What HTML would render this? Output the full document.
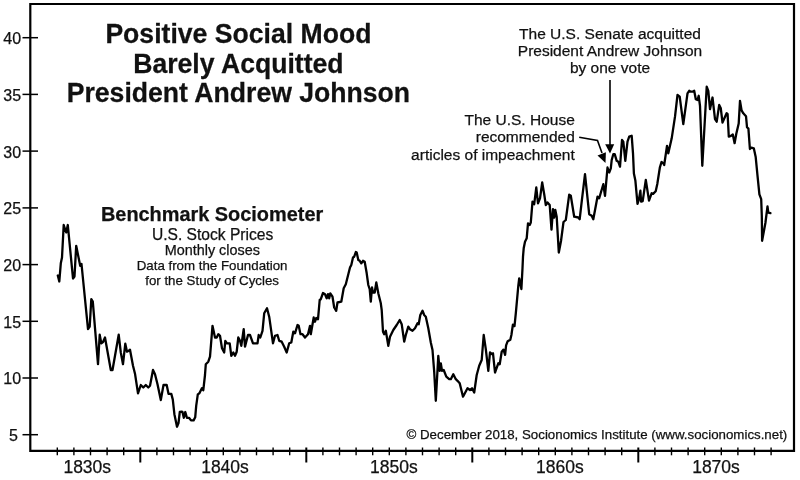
<!DOCTYPE html>
<html><head><meta charset="utf-8"><style>
html,body{margin:0;padding:0;background:#fff;}
body{width:800px;height:480px;position:relative;overflow:hidden;}
svg{position:absolute;left:0;top:0;will-change:transform;font-family:"Liberation Sans",sans-serif;}
</style></head><body>
<svg width="800" height="480" viewBox="0 0 800 480">
<g stroke="#000" fill="none">
<path d="M30.3,450.8 V4 H794 V450.8 Z" stroke-width="2.2"/>
<g stroke-width="1.5"><line x1="22.5" y1="37.7" x2="38" y2="37.7"/><line x1="22.5" y1="94.4" x2="38" y2="94.4"/><line x1="22.5" y1="151.1" x2="38" y2="151.1"/><line x1="22.5" y1="207.9" x2="38" y2="207.9"/><line x1="22.5" y1="264.6" x2="38" y2="264.6"/><line x1="22.5" y1="321.3" x2="38" y2="321.3"/><line x1="22.5" y1="378" x2="38" y2="378"/><line x1="22.5" y1="434.7" x2="38" y2="434.7"/></g>
<line x1="57.3" y1="447.5" x2="57.3" y2="455.3" stroke-width="1.4"/><line x1="73.9" y1="447.5" x2="73.9" y2="455.3" stroke-width="1.4"/><line x1="90.5" y1="447.5" x2="90.5" y2="455.3" stroke-width="1.4"/><line x1="107.1" y1="447.5" x2="107.1" y2="455.3" stroke-width="1.4"/><line x1="123.7" y1="447.5" x2="123.7" y2="455.3" stroke-width="1.4"/><line x1="140.3" y1="447.5" x2="140.3" y2="462.5" stroke-width="2"/><line x1="156.9" y1="447.5" x2="156.9" y2="455.3" stroke-width="1.4"/><line x1="173.5" y1="447.5" x2="173.5" y2="455.3" stroke-width="1.4"/><line x1="190.1" y1="447.5" x2="190.1" y2="455.3" stroke-width="1.4"/><line x1="206.7" y1="447.5" x2="206.7" y2="455.3" stroke-width="1.4"/><line x1="223.3" y1="447.5" x2="223.3" y2="455.3" stroke-width="1.4"/><line x1="239.9" y1="447.5" x2="239.9" y2="455.3" stroke-width="1.4"/><line x1="256.5" y1="447.5" x2="256.5" y2="455.3" stroke-width="1.4"/><line x1="273.1" y1="447.5" x2="273.1" y2="455.3" stroke-width="1.4"/><line x1="289.7" y1="447.5" x2="289.7" y2="455.3" stroke-width="1.4"/><line x1="306.3" y1="447.5" x2="306.3" y2="462.5" stroke-width="2"/><line x1="322.9" y1="447.5" x2="322.9" y2="455.3" stroke-width="1.4"/><line x1="339.5" y1="447.5" x2="339.5" y2="455.3" stroke-width="1.4"/><line x1="356.1" y1="447.5" x2="356.1" y2="455.3" stroke-width="1.4"/><line x1="372.7" y1="447.5" x2="372.7" y2="455.3" stroke-width="1.4"/><line x1="389.3" y1="447.5" x2="389.3" y2="455.3" stroke-width="1.4"/><line x1="405.9" y1="447.5" x2="405.9" y2="455.3" stroke-width="1.4"/><line x1="422.5" y1="447.5" x2="422.5" y2="455.3" stroke-width="1.4"/><line x1="439.1" y1="447.5" x2="439.1" y2="455.3" stroke-width="1.4"/><line x1="455.7" y1="447.5" x2="455.7" y2="455.3" stroke-width="1.4"/><line x1="472.3" y1="447.5" x2="472.3" y2="462.5" stroke-width="2"/><line x1="488.9" y1="447.5" x2="488.9" y2="455.3" stroke-width="1.4"/><line x1="505.5" y1="447.5" x2="505.5" y2="455.3" stroke-width="1.4"/><line x1="522.1" y1="447.5" x2="522.1" y2="455.3" stroke-width="1.4"/><line x1="538.7" y1="447.5" x2="538.7" y2="455.3" stroke-width="1.4"/><line x1="555.3" y1="447.5" x2="555.3" y2="455.3" stroke-width="1.4"/><line x1="571.9" y1="447.5" x2="571.9" y2="455.3" stroke-width="1.4"/><line x1="588.5" y1="447.5" x2="588.5" y2="455.3" stroke-width="1.4"/><line x1="605.1" y1="447.5" x2="605.1" y2="455.3" stroke-width="1.4"/><line x1="621.7" y1="447.5" x2="621.7" y2="455.3" stroke-width="1.4"/><line x1="638.3" y1="447.5" x2="638.3" y2="462.5" stroke-width="2"/><line x1="654.9" y1="447.5" x2="654.9" y2="455.3" stroke-width="1.4"/><line x1="671.5" y1="447.5" x2="671.5" y2="455.3" stroke-width="1.4"/><line x1="688.1" y1="447.5" x2="688.1" y2="455.3" stroke-width="1.4"/><line x1="704.7" y1="447.5" x2="704.7" y2="455.3" stroke-width="1.4"/><line x1="721.3" y1="447.5" x2="721.3" y2="455.3" stroke-width="1.4"/><line x1="737.9" y1="447.5" x2="737.9" y2="455.3" stroke-width="1.4"/><line x1="754.5" y1="447.5" x2="754.5" y2="455.3" stroke-width="1.4"/><line x1="771.1" y1="447.5" x2="771.1" y2="455.3" stroke-width="1.4"/>
<path d="M57.8,275.5 L59.3,281.5 L60.8,263.3 L62.0,257.5 L63.7,225.0 L66.2,232.5 L67.8,225.0 L73.0,278.5 L74.5,276.5 L76.2,245.8 L80.2,265.8 L81.5,264.0 L88.0,329.2 L89.7,326.7 L91.3,299.2 L92.8,301.7 L98.0,364.2 L99.7,334.7 L101.3,343.3 L103.0,342.0 L105.0,337.5 L110.8,370.0 L112.5,370.0 L118.7,334.7 L120.8,352.5 L123.0,364.2 L125.3,343.7 L127.0,351.7 L128.7,350.8 L130.0,349.7 L133.0,365.8 L135.0,373.7 L138.0,393.3 L140.8,385.0 L143.3,387.5 L145.8,385.0 L148.3,387.5 L150.0,385.8 L153.0,370.0 L155.0,374.2 L157.5,384.2 L160.8,400.0 L163.5,385.0 L166.7,385.0 L168.5,393.8 L171.3,393.9 L172.8,399.6 L174.4,414.2 L177.0,426.7 L178.5,423.0 L179.8,412.0 L181.7,411.6 L182.5,412.0 L183.8,417.8 L185.3,412.0 L186.9,417.8 L189.0,417.8 L191.0,420.4 L193.6,420.4 L195.2,417.3 L196.2,405.8 L197.8,394.4 L199.4,393.3 L202.0,388.1 L203.3,390.2 L205.0,375.0 L205.8,364.2 L208.3,361.7 L210.0,356.7 L212.5,325.8 L215.0,337.5 L216.7,337.5 L218.3,334.2 L220.0,335.8 L222.0,348.3 L224.2,352.5 L225.3,340.8 L227.0,343.3 L229.7,343.3 L231.3,355.8 L233.3,352.5 L235.0,355.8 L236.7,351.7 L238.3,337.5 L240.0,340.8 L241.3,345.8 L243.7,329.2 L245.0,346.7 L248.0,335.0 L250.0,335.0 L253.0,343.3 L257.5,343.3 L258.7,335.0 L260.3,337.5 L262.5,330.8 L264.2,313.3 L267.0,308.3 L269.2,316.7 L273.0,343.3 L275.0,335.8 L277.5,335.0 L279.2,340.8 L281.7,341.7 L284.2,346.7 L286.7,352.5 L289.2,343.3 L291.3,342.5 L293.3,331.7 L295.0,333.3 L297.5,325.0 L298.7,325.8 L300.5,334.2 L302.5,334.2 L305.0,337.5 L308.0,334.2 L310.0,325.8 L310.8,334.2 L313.7,317.5 L315.0,321.7 L316.3,318.0 L318.0,319.2 L319.7,300.0 L320.8,299.2 L323.0,293.0 L325.0,294.2 L326.7,298.3 L328.0,294.2 L329.2,298.3 L330.3,293.3 L332.5,296.7 L334.2,307.5 L336.2,310.8 L337.5,302.5 L341.3,301.7 L343.7,288.3 L345.8,284.2 L350.0,267.5 L351.3,265.0 L353.0,257.5 L354.2,256.7 L355.8,252.0 L356.7,252.5 L358.3,260.0 L359.7,260.8 L361.3,263.3 L363.0,260.8 L364.7,261.7 L366.7,273.3 L368.3,285.0 L369.7,289.2 L370.8,301.7 L372.0,287.5 L373.0,292.5 L374.7,292.5 L376.3,282.5 L378.3,293.3 L380.8,303.3 L381.7,310.0 L383.0,331.7 L384.2,334.2 L385.8,330.8 L388.3,345.8 L390.0,336.7 L393.3,330.0 L396.7,325.0 L399.7,320.0 L401.7,324.2 L404.2,341.7 L405.8,335.0 L408.3,326.7 L410.0,329.2 L412.5,330.8 L415.0,328.3 L417.5,323.3 L418.7,324.2 L420.3,315.0 L422.5,310.8 L424.2,315.0 L425.8,316.7 L428.3,328.3 L430.8,342.5 L432.5,350.0 L434.2,371.7 L435.8,400.8 L438.3,355.8 L439.7,370.8 L440.8,363.3 L442.0,370.8 L443.7,370.0 L446.3,376.7 L449.2,379.2 L450.8,379.2 L453.3,374.2 L455.8,379.2 L457.5,380.8 L459.7,383.3 L463.0,396.7 L467.5,388.3 L470.0,390.0 L472.0,388.3 L474.2,392.5 L476.7,375.0 L479.2,365.8 L481.7,360.0 L483.7,335.0 L485.8,349.2 L488.3,370.8 L490.0,352.5 L492.0,354.2 L493.0,353.3 L495.0,372.5 L498.3,363.3 L499.7,364.2 L501.7,351.7 L503.5,349.6 L505.1,354.8 L506.1,345.4 L507.7,341.2 L510.3,339.7 L511.4,335.0 L512.9,324.6 L514.5,326.1 L515.8,313.3 L518.3,285.8 L519.2,278.3 L521.4,289.0 L522.5,268.3 L523.0,256.7 L523.7,248.3 L525.0,241.7 L526.7,238.3 L528.0,223.3 L529.7,225.0 L530.8,222.5 L532.5,201.7 L534.2,204.2 L536.3,187.5 L538.0,203.3 L540.0,198.3 L542.2,182.5 L544.2,194.2 L545.8,205.0 L547.5,202.5 L549.7,205.0 L551.5,229.6 L553.0,209.2 L554.2,217.5 L555.3,210.0 L556.7,216.7 L558.8,252.5 L561.0,241.0 L563.5,222.0 L565.8,220.0 L569.2,194.7 L570.8,195.8 L574.2,216.7 L578.3,217.5 L579.7,219.2 L582.0,199.2 L585.0,174.2 L589.2,214.2 L591.7,215.8 L593.3,219.2 L597.5,196.7 L599.2,198.3 L603.3,184.2 L605.0,195.8 L607.5,167.5 L609.2,172.5 L610.8,168.3 L611.7,160.0 L613.3,154.2 L614.7,154.2 L616.7,160.8 L618.3,161.7 L620.0,166.7 L622.0,140.0 L623.3,141.7 L625.3,160.8 L627.5,141.7 L629.2,136.7 L631.7,135.8 L633.0,153.3 L633.9,173.5 L635.4,180.8 L637.5,203.8 L639.0,199.0 L640.4,190.7 L641.1,201.7 L642.7,201.1 L645.8,179.8 L649.0,200.6 L651.6,193.3 L653.1,193.9 L655.7,191.2 L657.3,184.0 L659.9,167.3 L661.5,162.0 L663.5,163.6 L664.2,165.0 L667.0,145.8 L668.3,153.3 L671.7,138.3 L675.0,116.7 L677.5,95.0 L679.7,96.7 L683.3,124.2 L687.5,93.3 L689.2,90.8 L690.8,91.7 L692.5,91.7 L694.2,90.8 L695.8,99.2 L697.5,100.0 L698.7,95.8 L700.0,105.8 L702.3,165.8 L706.7,86.7 L708.3,90.8 L710.0,109.2 L712.5,97.5 L715.0,119.2 L716.7,121.7 L719.2,105.0 L720.8,108.3 L722.5,122.5 L726.6,113.3 L727.6,114.0 L728.8,136.7 L730.9,135.9 L732.8,134.5 L734.6,143.2 L736.3,133.8 L738.7,123.5 L740.0,100.9 L741.6,110.4 L743.3,113.3 L746.0,116.2 L747.0,127.2 L748.4,128.6 L749.9,149.0 L751.4,147.6 L753.8,148.3 L755.7,157.1 L757.5,175.6 L759.4,194.4 L761.2,199.2 L761.8,215.8 L762.1,240.8 L765.4,223.0 L767.5,206.5 L768.3,212.7 L770.4,213.2" stroke-width="2.3" stroke-linejoin="round" stroke-linecap="round"/>
<path d="M610,80 V146" stroke-width="1.6"/>
<path d="M579.2,137.2 L597.5,140.5 L602,153" stroke-width="1.6"/>
</g>
<g fill="#000">
<path d="M605.2,144.2 L614.2,144.2 L610,153.6 Z"/>
<path d="M597.5,155.5 L605.9,152.2 L605.5,163 Z"/>
</g>
<g fill="#111" stroke="#111" stroke-width="0.25">
<text x="21.1" y="44" font-size="16" text-anchor="end">40</text>
<text x="21.1" y="101" font-size="16" text-anchor="end">35</text>
<text x="21.1" y="158" font-size="16" text-anchor="end">30</text>
<text x="21.1" y="214" font-size="16" text-anchor="end">25</text>
<text x="21.1" y="271" font-size="16" text-anchor="end">20</text>
<text x="21.1" y="328" font-size="16" text-anchor="end">15</text>
<text x="21.1" y="384" font-size="16" text-anchor="end">10</text>
<text x="17.8" y="441" font-size="16" text-anchor="end">5</text>
<text x="87.25" y="473" font-size="17.5" text-anchor="middle">1830s</text>
<text x="225" y="473" font-size="17.5" text-anchor="middle">1840s</text>
<text x="393.8" y="473" font-size="17.5" text-anchor="middle">1850s</text>
<text x="559.8" y="473" font-size="17.5" text-anchor="middle">1860s</text>
<text x="716" y="473" font-size="17.5" text-anchor="middle">1870s</text>
<text x="238.4" y="43" font-size="26.6" text-anchor="middle" font-weight="bold" transform="translate(0 43) scale(1 1.03) translate(0 -43)">Positive Social Mood</text>
<text x="238.4" y="73" font-size="26.6" text-anchor="middle" font-weight="bold" transform="translate(0 73) scale(1 1.03) translate(0 -73)">Barely Acquitted</text>
<text x="238.4" y="102" font-size="26.6" text-anchor="middle" font-weight="bold" transform="translate(0 102) scale(1 1.03) translate(0 -102)">President Andrew Johnson</text>
<text x="212.1" y="221" font-size="19.9" text-anchor="middle" font-weight="bold">Benchmark Sociometer</text>
<text x="212.6" y="240" font-size="15.6" text-anchor="middle">U.S. Stock Prices</text>
<text x="212.3" y="255" font-size="14.4" text-anchor="middle">Monthly closes</text>
<text x="212.1" y="270.4" font-size="13.3" text-anchor="middle">Data from the Foundation</text>
<text x="212.1" y="285" font-size="13.3" text-anchor="middle">for the Study of Cycles</text>
<text x="610" y="39" font-size="15.5" text-anchor="middle">The U.S. Senate acquitted</text>
<text x="610" y="56" font-size="15.5" text-anchor="middle">President Andrew Johnson</text>
<text x="610" y="73" font-size="15.5" text-anchor="middle">by one vote</text>
<text x="574.8" y="125" font-size="15.5" text-anchor="end">The U.S. House</text>
<text x="574.8" y="142.4" font-size="15.5" text-anchor="end">recommended</text>
<text x="574.8" y="160" font-size="15.5" text-anchor="end">articles of impeachment</text>
<text x="787.3" y="439" font-size="13.3" text-anchor="end">&#169; December 2018, Socionomics Institute (www.socionomics.net)</text>

</g>
</svg>
</body></html>
